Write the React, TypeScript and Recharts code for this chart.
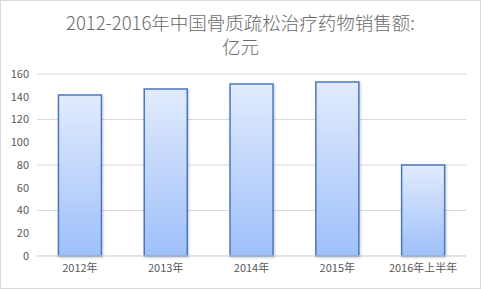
import { BarChart, Bar, XAxis, YAxis, CartesianGrid } from 'recharts'

const years = ['2012年', '2013年', '2014年', '2015年', '2016年上半年']
const sales = [141.5, 146.8, 151.2, 153, 80]
const yTicks = [0, 20, 40, 60, 80, 100, 120, 140, 160]

const data = years.map((year, i) => ({ year, sales: sales[i] }))

const font = '"Noto Sans CJK SC", "Noto Sans", sans-serif'

export default function App() {
  return (
    <div
      style={{
        position: 'relative',
        width: 481,
        height: 289,
        boxSizing: 'border-box',
        border: '1px solid #d9d9d9',
        background: '#fff',
        fontFamily: font,
      }}
    >
      <style>{'body{margin:0}'}</style>
      <div
        style={{
          position: 'absolute',
          top: 9,
          left: 0,
          width: 479,
          textAlign: 'center',
          fontSize: 18.5,
          lineHeight: '24px',
          color: '#6a6a6a',
          fontWeight: 300,
        }}
      >
        2012-2016年中国骨质疏松治疗药物销售额:
        <br />
        亿元
      </div>
      <BarChart
        width={479}
        height={287}
        data={data}
        margin={{ top: 73, right: 14, bottom: 0, left: 0 }}
        barCategoryGap="25%"
        style={{ position: 'absolute', top: 0, left: 0 }}
      >
        <defs>
          <linearGradient id="barFill" x1="0" y1="0" x2="0" y2="1">
            <stop offset="0%" stopColor="#e1ebfd" />
            <stop offset="100%" stopColor="#9fc0fa" />
          </linearGradient>
          <filter id="shadow" x="-20%" y="-20%" width="140%" height="140%">
            <feDropShadow dx="1" dy="1" stdDeviation="1" floodColor="#000" floodOpacity="0.2" />
          </filter>
        </defs>
        <CartesianGrid vertical={false} stroke="#d9d9d9" />
        <XAxis
          dataKey="year"
          axisLine={{ stroke: '#d9d9d9' }}
          tickLine={false}
          height={32}
          tick={{ fontSize: 11, fill: '#595959', fontFamily: font }}
        />
        <YAxis
          domain={[0, 160]}
          ticks={yTicks}
          axisLine={false}
          tickLine={false}
          width={36}
          tick={{ fontSize: 11, fill: '#595959', fontFamily: font }}
        />
        <Bar
          dataKey="sales"
          fill="url(#barFill)"
          stroke="#4a78bd"
          strokeWidth={1.5}
          filter="url(#shadow)"
          isAnimationActive={false}
        />
      </BarChart>
    </div>
  )
}
